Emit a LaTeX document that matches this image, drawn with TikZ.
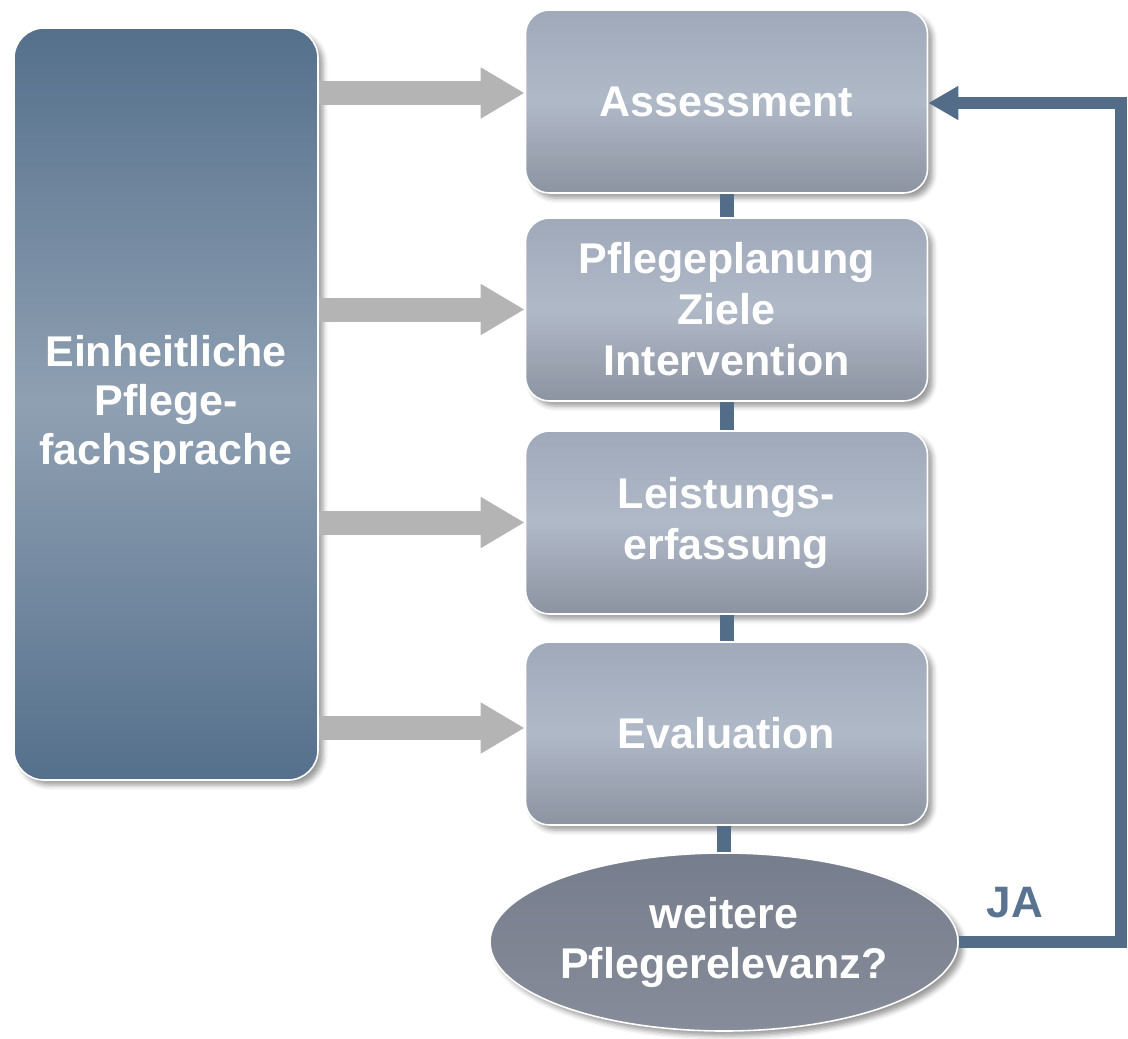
\documentclass[tikz,border=0pt]{standalone}
\usepackage{fontspec}
\setmainfont{Liberation Sans}
\usepackage{tikz}
\usetikzlibrary{arrows.meta,shapes,positioning,shadows.blur}
\definecolor{steelbar}{RGB}{83,109,136}
\definecolor{sidedark}{RGB}{85,112,140}
\definecolor{sidelight}{RGB}{143,160,178}
\definecolor{boxtop}{RGB}{160,169,185}
\definecolor{boxmid}{RGB}{176,185,200}
\definecolor{boxbot}{RGB}{140,147,161}
\definecolor{ovaltop}{RGB}{118,125,140}
\definecolor{ovalbot}{RGB}{134,140,153}
\definecolor{arrowgray}{RGB}{180,180,180}
\definecolor{jablue}{RGB}{90,115,145}

\begin{document}
\begin{tikzpicture}[x=0.5pt, y=-0.5pt,
    procbox/.style={draw=white, line width=0.8pt, rounded corners=12pt,
        top color=boxtop, bottom color=boxbot, middle color=boxmid,
        minimum width=201pt, minimum height=91.5pt, text width=190pt, align=center,
        text=white, font=\fontsize{21.5}{25.5}\selectfont\bfseries,
        blur shadow={shadow xshift=2.5pt, shadow yshift=-2.5pt, shadow blur radius=2.5pt}},
    sidearrow/.style={draw=arrowgray, line width=12pt, -{Triangle[length=22pt,width=24pt]}},
    linkbar/.style={draw=steelbar, line width=7pt},
    backline/.style={draw=steelbar, line width=6pt, -{Triangle[length=15pt,width=16pt]}}]
    \useasboundingbox (0,0) rectangle (1128,1038);

    % Fachsprache links
    \node[draw=white, line width=0.8pt, rounded corners=15pt,
        top color=sidedark, bottom color=sidedark, middle color=sidelight,
        minimum width=152pt, minimum height=376pt, align=center,
        text=white, font=\fontsize{21.5}{24.5}\selectfont\bfseries,
        blur shadow={shadow xshift=2.5pt, shadow yshift=-2.5pt, shadow blur radius=2.5pt}]
        (fach) at (166,404) {Einheitliche\\Pflege-\\fachsprache};

    % Prozessschritte
    \node[procbox] (ass) at (726.5,101.5) {Assessment};
    \node[procbox] (plan) at (726.5,309.5) {Pflegeplanung\\Ziele\\Intervention};
    \node[procbox] (leist) at (726.5,522.5) {Leistungs-\\erfassung};
    \node[procbox] (eval) at (726.5,733.5) {Evaluation};
    \node[ellipse, draw=white, line width=0.8pt, top color=ovaltop, bottom color=ovalbot,
        minimum width=234pt, minimum height=89pt, inner sep=0pt, align=center,
        text=white, font=\fontsize{21.5}{25}\selectfont\bfseries,
        blur shadow={shadow xshift=2.5pt, shadow yshift=-2.5pt, shadow blur radius=2.5pt}]
        (rel) at (724,942) {weitere\\Pflegerelevanz?};

    % Verbindungen
    \draw[linkbar] (ass.south) -- (plan.north);
    \draw[linkbar] (plan.south) -- (leist.north);
    \draw[linkbar] (leist.south) -- (eval.north);
    \draw[linkbar] (rel.north |- eval.south) -- (rel.north);

    \draw[sidearrow] (fach.east |- 0,93) -- (ass.west |- 0,93);
    \draw[sidearrow] (fach.east |- plan.west) -- (plan.west);
    \draw[sidearrow] (fach.east |- leist.west) -- (leist.west);
    \draw[sidearrow] (fach.east |- 0,728) -- (eval.west |- 0,728);

    % Rueckfuehrung
    \coordinate (turn) at (1121,103);
    \draw[backline] (rel.east) -| (turn) -- (ass.east |- turn);
    \node[text=jablue, font=\fontsize{22}{26}\selectfont\bfseries] (ja) at (1015,903) {JA};
\end{tikzpicture}
\end{document}
